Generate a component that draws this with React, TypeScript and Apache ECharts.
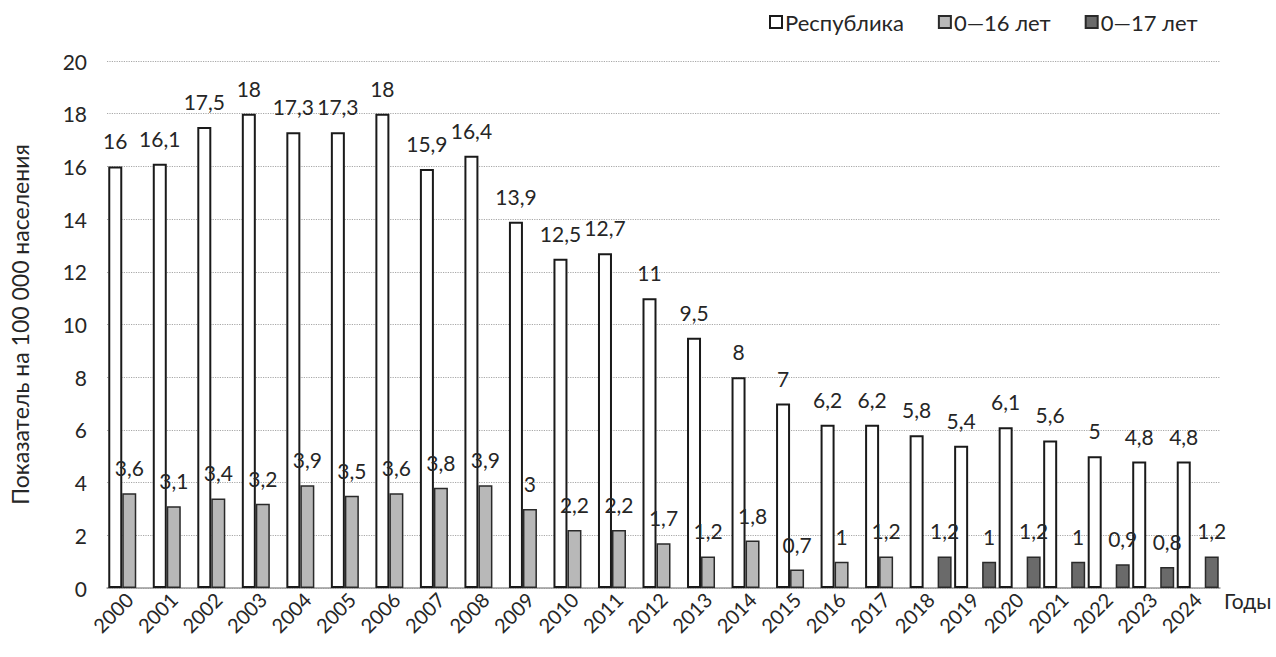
import React, { useEffect, useRef } from "react";
import * as echarts from "echarts";

const years = ["2000","2001","2002","2003","2004","2005","2006","2007","2008","2009","2010","2011","2012","2013","2014","2015","2016","2017","2018","2019","2020","2021","2022","2023","2024"];
const republic = [16,16.1,17.5,18,17.3,17.3,18,15.9,16.4,13.9,12.5,12.7,11,9.5,8,7,6.2,6.2,5.8,5.4,6.1,5.6,5,4.8,4.8];
const age016 = [3.6,3.1,3.4,3.2,3.9,3.5,3.6,3.8,3.9,3,2.2,2.2,1.7,1.2,1.8,0.7,1,1.2,null,null,null,null,null,null,null];
const age017 = [null,null,null,null,null,null,null,null,null,null,null,null,null,null,null,null,null,null,1.2,1,1.2,1,0.9,0.8,1.2];
const yTicks = [0,2,4,6,8,10,12,14,16,18,20];

const FONT = "Lato";
const TXT = "#262626";

export default function App() {
  const ref = useRef<HTMLDivElement>(null);
  useEffect(() => {
    if (!ref.current) return;
    const chart = echarts.init(ref.current, null, { renderer: "svg" });
    const fmt = (p: any) => (p.value == null ? "" : String(p.value).replace(".", ","));
    const label = {
      show: true,
      position: "top" as const,
      distance: 15,
      color: TXT,
      fontFamily: FONT,
      fontSize: 21,
      formatter: fmt,
    };
    chart.setOption({
      animation: false,
      textStyle: { fontFamily: FONT, color: TXT },
      legend: {
        top: 6,
        left: 764,
        itemWidth: 12,
        itemHeight: 12,
        itemGap: 34,
        icon: "rect",
        textStyle: { fontSize: 22, color: TXT, fontFamily: FONT, padding: [0, 0, 0, -2] },
        data: ["Республика", "0—16 лет", "0—17 лет"],
      },
      grid: { left: 100, right: 56, top: 61, bottom: 69 },
      xAxis: {
        type: "category",
        data: years,
        name: "Годы",
        nameLocation: "end",
        nameGap: 4,
        nameTextStyle: { fontSize: 21, color: TXT, fontFamily: FONT, verticalAlign: "top", padding: [2, 0, 0, 0] },
        axisLine: { lineStyle: { color: "#999", width: 1.5 } },
        axisTick: { show: false },
        axisLabel: { rotate: 45, fontSize: 20, color: TXT, fontFamily: FONT, margin: 8, interval: 0 },
      },
      yAxis: {
        type: "value",
        min: 0,
        max: 20,
        interval: 2,
        name: "Показатель на 100 000 населения",
        nameLocation: "middle",
        nameGap: 76,
        nameTextStyle: { fontSize: 23, color: TXT, fontFamily: FONT },
        axisLine: { show: false },
        axisTick: { show: false },
        axisLabel: {
          fontSize: 21,
          color: TXT,
          fontFamily: FONT,
          margin: 20,
          formatter: (v: number) => (yTicks.includes(v) ? String(v) : ""),
        },
        splitLine: { lineStyle: { color: "#a8a8a8", type: "dotted", width: 1.2 } },
      },
      series: [
        {
          name: "Республика",
          type: "bar",
          data: republic,
          barWidth: 14,
          barGap: "0%",
          itemStyle: { color: "#ffffff", borderColor: "#1a1a1a", borderWidth: 2 },
          label,
        },
        {
          name: "0—16 лет",
          type: "bar",
          data: age016,
          barWidth: 14,
          barGap: "0%",
          itemStyle: { color: "#b8b8b8", borderColor: "#2a2a2a", borderWidth: 1.5 },
          label,
        },
        {
          name: "0—17 лет",
          type: "bar",
          data: age017,
          barWidth: 14,
          barGap: "0%",
          itemStyle: { color: "#6a6a6a", borderColor: "#2a2a2a", borderWidth: 1.5 },
          label,
        },
      ],
    });
    return () => chart.dispose();
  }, []);
  return (
    <div
      ref={ref}
      style={{ position: "absolute", left: 0, top: 0, width: 1276, height: 657, background: "#fff" }}
    />
  );
}
